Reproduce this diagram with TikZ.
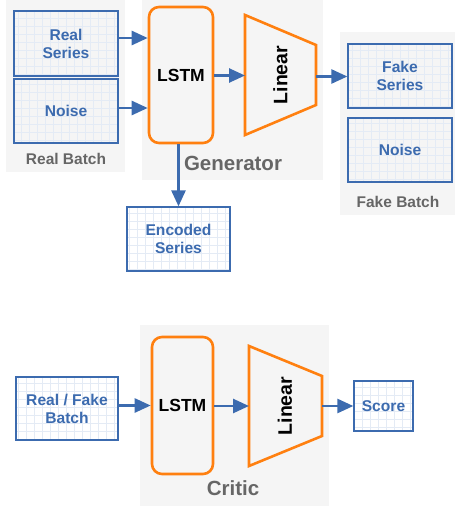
\documentclass[tikz,border=0pt]{standalone}
\usepackage{fontspec}
\setmainfont{Liberation Sans}
\usetikzlibrary{arrows.meta,calc}
\definecolor{bblue}{HTML}{3C6BAF}
\definecolor{gridc}{HTML}{E4EBF5}
\definecolor{orng}{HTML}{FF8010}
\definecolor{bgc}{HTML}{F5F5F5}
\definecolor{gtext}{HTML}{666666}
\tikzset{
  databox/.style={draw=bblue, line width=1.3pt, text=bblue,
    font=\fontsize{15.6}{18}\selectfont\bfseries, align=center, inner sep=0pt,
    path picture={\draw[gridc, line width=0.5pt, step=8pt]
      (path picture bounding box.south west) grid (path picture bounding box.north east);}},
  lstmbox/.style={draw=orng, line width=2.6pt, rounded corners=10pt, inner sep=0pt,
    font=\fontsize{17.5}{20}\selectfont\bfseries},
  trap/.style={draw=orng, line width=2.6pt, line join=miter},
  linlabel/.style={rotate=90, font=\fontsize{19.5}{24}\selectfont\bfseries},
  flow/.style={draw=bblue, line width=2.6pt, -{Triangle[length=16pt,width=14pt]}},
  bgbox/.style={fill=bgc, draw=none},
  grouplabel/.style={text=gtext, font=\fontsize{15.5}{18}\selectfont\bfseries},
  biglabel/.style={text=gtext, font=\fontsize{20.5}{24}\selectfont\bfseries},
}
\begin{document}
\begin{tikzpicture}[x=1pt,y=-1pt]
\useasboundingbox (0,0) rectangle (455,506);
% backgrounds
\fill[bgbox] (6,0) rectangle (125,172);
\fill[bgbox] (142,0) rectangle (323,180);
\fill[bgbox] (340,32) rectangle (455,215);
\fill[bgbox] (140,325) rectangle (329,506);

% Generator part
\node[databox, minimum width=104pt, minimum height=65pt] (rs) at (66,43.5) {Real\\Series};
\node[databox, minimum width=104pt, minimum height=64pt] (n1) at (66,111) {Noise};
\node[grouplabel] (rb) at (66,159) {Real Batch};

\node[lstmbox, minimum width=64pt, minimum height=136pt] (lstm) at (181,75) {LSTM};

\draw[trap] (245,15) -- (316,45) -- (316,105) -- (245,135) -- cycle;
\node[linlabel] (lin) at (280.5,75) {Linear};
\coordinate (linL) at (245,75.5);
\coordinate (linR) at (316,76.5);

\node[biglabel] (gen) at (233,163) {Generator};

\node[databox, minimum width=104pt, minimum height=64pt] (fs) at (400,76) {Fake\\Series};
\node[databox, minimum width=104pt, minimum height=64pt] (n2) at (400,150) {Noise};
\node[grouplabel] (fb) at (398,202) {Fake Batch};

\node[databox, minimum width=103pt, minimum height=64pt] (enc) at (178.5,239) {Encoded\\Series};

\draw[flow] ([yshift=5.5pt]rs.east) -- ([yshift=5.5pt]rs.east -| lstm.west);
\draw[flow] ([yshift=3pt]n1.east) -- ([yshift=3pt]n1.east -| lstm.west);
\draw[flow] (lstm.east |- linL) -- (linL);
\draw[flow] (linR) -- (linR -| fs.west);
\draw[flow] (lstm.south -| enc.north) -- (enc.north);

% Critic part
\node[databox, minimum width=102pt, minimum height=63pt] (rfb) at (67,408.5) {Real / Fake\\Batch};
\node[lstmbox, minimum width=61pt, minimum height=137pt] (lstm2) at (182.5,405.5) {LSTM};
\draw[trap] (249,346) -- (322,376) -- (322,436) -- (249,466) -- cycle;
\node[linlabel] (lin2) at (285,406) {Linear};
\coordinate (lin2L) at (249,406);
\coordinate (lin2R) at (322,406);
\node[databox, minimum width=59pt, minimum height=50pt] (score) at (383.5,406) {Score};
\node[biglabel] (crit) at (233,488) {Critic};

\draw[flow] (rfb.east |- lstm2) -- (lstm2.west);
\draw[flow] (lstm2.east |- lin2L) -- (lin2L);
\draw[flow] (lin2R) -- (score.west);
\end{tikzpicture}
\end{document}
